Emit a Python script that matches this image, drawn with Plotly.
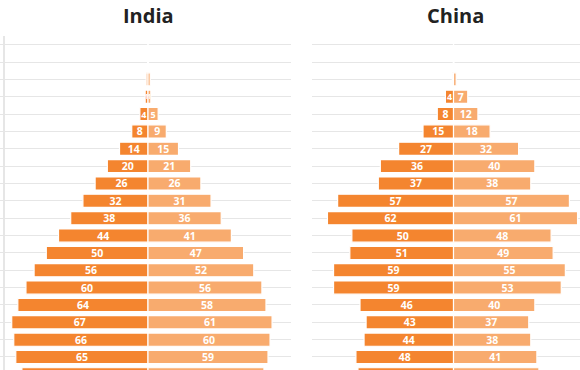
import plotly.graph_objects as go

W, H = 580, 370

age_groups = ["5-9", "10-14", "15-19", "20-24", "25-29", "30-34", "35-39", "40-44",
              "45-49", "50-54", "55-59", "60-64", "65-69", "70-74", "75-79", "80-84",
              "85-89", "90-94", "95-99", "100+"]

india_male = [62, 65, 66, 67, 64, 60, 56, 50, 44, 38, 32, 26, 20, 14, 8, 4, 1.4, 0.9, 0.2, 0]
india_female = [57, 59, 60, 61, 58, 56, 52, 47, 41, 36, 31, 26, 21, 15, 9, 5, 1.4, 1.1, 0.2, 0]

china_male = [47, 48, 44, 43, 46, 59, 59, 51, 50, 62, 57, 37, 36, 27, 15, 8, 4, 0.6, 0.1, 0]
china_female = [42, 41, 38, 37, 40, 53, 55, 49, 48, 61, 57, 38, 40, 32, 18, 12, 7, 1.3, 0.2, 0]

countries = ["India", "China"]

MALE = "#f4852f"
FEMALE = "#f8ab6e"
GRID = "#e6e6e6"


def labels(vals):
    out = [f"{v:.0f}" if v >= 1.35 else "" for v in vals]
    out[0] = ""  # bottom row is cut off by the frame, its label is not visible
    return out


def sizes(vals):
    return [6.5 if v < 2 else (9 if v < 6 else 10.5) for v in vals]


fig = go.Figure()

bar_common = dict(orientation="h", width=0.76, constraintext="none",
                  textposition="inside", insidetextanchor="middle", textangle=0,
                  marker_line=dict(color="white", width=1.2), hoverinfo="skip",
                  showlegend=False)

for k, (male, female) in enumerate([(india_male, india_female), (china_male, china_female)]):
    xa = "x" if k == 0 else "x2"
    ya = "y" if k == 0 else "y2"
    fig.add_trace(go.Bar(y=age_groups, x=[-v for v in male], text=labels(male),
                         textfont=dict(color="white", size=sizes(male), family="Open Sans", weight="bold"),
                         marker_color=MALE, xaxis=xa, yaxis=ya, **bar_common))
    fig.add_trace(go.Bar(y=age_groups, x=female, text=labels(female),
                         textfont=dict(color="white", size=sizes(female), family="Open Sans", weight="bold"),
                         marker_color=FEMALE, xaxis=xa, yaxis=ya, **bar_common))

yrange = [0.25, 19.5]
fig.update_layout(
    width=W, height=H,
    margin=dict(l=0, r=0, t=36, b=0),
    paper_bgcolor="white", plot_bgcolor="white",
    barmode="overlay",
    xaxis=dict(domain=[5 / W, 291 / W], range=[-70.3, 70.3], visible=False, fixedrange=True),
    xaxis2=dict(domain=[312 / W, 1], range=[-69.6, 62.2], visible=False, fixedrange=True),
    yaxis=dict(anchor="x", range=yrange, type="category", categoryorder="array",
               categoryarray=age_groups, showticklabels=False, showgrid=True,
               gridcolor=GRID, gridwidth=1, showline=True, linecolor=GRID, linewidth=1.5,
               ticks="outside", ticklen=5, tickcolor=GRID, zeroline=False, fixedrange=True),
    yaxis2=dict(anchor="x2", range=yrange, type="category", categoryorder="array",
                categoryarray=age_groups, showticklabels=False, showgrid=True,
                gridcolor=GRID, gridwidth=1, showline=False, ticks="", zeroline=False,
                fixedrange=True),
)

title_x = [148 / W, 455 / W]
for name, tx in zip(countries, title_x):
    fig.add_annotation(text=f"<b>{name}</b>", x=tx, xref="paper", y=1 + (36 - 16) / 334,
                       yref="paper", showarrow=False, xanchor="center", yanchor="middle",
                       font=dict(family="Open Sans", size=20, color="#222222"))

fig.write_html("out.html", config={"displayModeBar": False},
               post_script="document.body.style.margin='0px';")
